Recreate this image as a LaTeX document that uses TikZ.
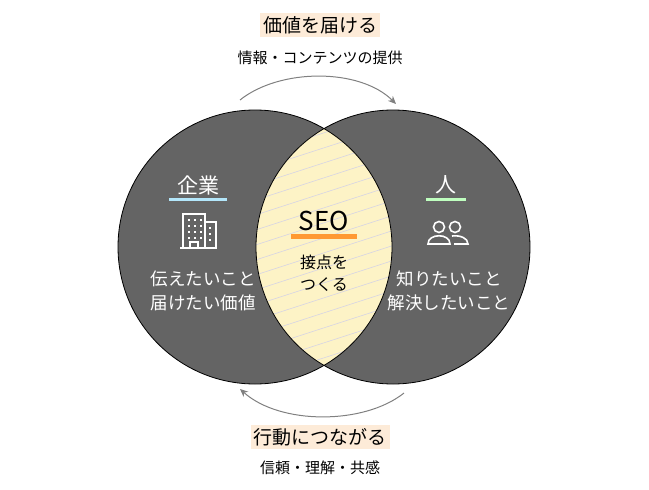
\documentclass[tikz,border=0pt]{standalone}
\usepackage{fontspec}
\setmainfont{Noto Sans CJK JP}
\usetikzlibrary{positioning,arrows.meta}
\definecolor{disk}{HTML}{646464}
\definecolor{lens}{HTML}{FDF3C6}
\definecolor{peach}{HTML}{FDEBD8}
\definecolor{hatch}{HTML}{D6D4E4}
\begin{document}
\begin{tikzpicture}[x=1pt,y=-1pt,
   title/.style={fill=peach, inner sep=3pt, font=\fontsize{19}{19}\selectfont},
   sub/.style={font=\fontsize{15}{15}\selectfont},
   side/.style={text=white, align=center, font=\fontsize{17.5}{24}\selectfont},
   flow/.style={-{Stealth[length=8pt,width=7pt]}, gray, line width=1pt}]
\useasboundingbox (0,0) rectangle (649,490);
% circles
\fill[disk] (255,247) circle (137);
\fill[disk] (393,247) circle (137);
\begin{scope}
  \clip (255,247) circle (137);
  \clip (393,247) circle (137);
  \fill[lens] (240,100) rectangle (410,400);
  \foreach \k in {0,...,24}
    \draw[hatch, line width=0.6pt] (240,{100+\k*15}) -- ++(170,-55);
\end{scope}
\draw[line width=0.8pt] (255,247) circle (137);
\draw[line width=0.8pt] (393,247) circle (137);
% top and bottom labels
\node[title] (give) at (320,25) {価値を届ける};
\node[sub] (info) at (320,58) {情報・コンテンツの提供};
\node[title] (act) at (320,437) {行動につながる};
\node[sub] (trust) at (320,468) {信頼・理解・共感};
\coordinate (ta) at (240,100);
\coordinate (tb) at (396,104);
\coordinate (ba) at (404,393);
\coordinate (bb) at (240,389);
\draw[flow] (ta) .. controls (280,68) and (360,68) .. (tb);
\draw[flow] (ba) .. controls (364,425) and (280,425) .. (bb);
% left side
\node[text=white, font=\fontsize{21}{21}\selectfont] (corp) at (198,185) {企業};
\draw[cyan!30, line width=3pt] (169,199) -- (227,199);
\begin{scope}[white, line width=1.2pt]
  \draw (183,248) -- (183,214) -- (205,214) -- (205,248) -- cycle;
  \draw (205,222) -- (216,222) -- (216,248) -- (180,248);
  \foreach \i in {0,1,2} \foreach \j in {0,1,2,3}
    \fill ({188+\i*6},{219+\j*6}) rectangle ++(2,2);
  \foreach \j in {0,1,2} \fill (209,{227+\j*6}) rectangle ++(2,2);
  \draw (190,248) -- (190,242) -- (198,242) -- (198,248);
\end{scope}
\node[side] (wantl) at (203,291) {伝えたいこと\\届けたい価値};
% right side
\node[text=white, font=\fontsize{21}{21}\selectfont] (person) at (446,185) {人};
\draw[green!25, line width=3pt] (426,199) -- (466,199);
\begin{scope}[white, line width=1.6pt]
  \draw (439,227) circle (5.5);
  \draw (455,227) circle (5.5);
  \draw (428,244) .. controls (428,233) and (450,233) .. (450,244) -- cycle;
  \draw (452,236) .. controls (460,235) and (468,238) .. (468,244) -- (454,244);
\end{scope}
\node[side] (wantr) at (449,291) {知りたいこと\\解決したいこと};
% center
\fill[orange!80] (291,234) rectangle (357,239);
\node[font=\fontsize{26}{26}\selectfont] (seo) at (324,221) {SEO};
\node[align=center, font=\fontsize{16}{22}\selectfont] (touch) at (324,273) {接点を\\つくる};
\end{tikzpicture}
\end{document}
